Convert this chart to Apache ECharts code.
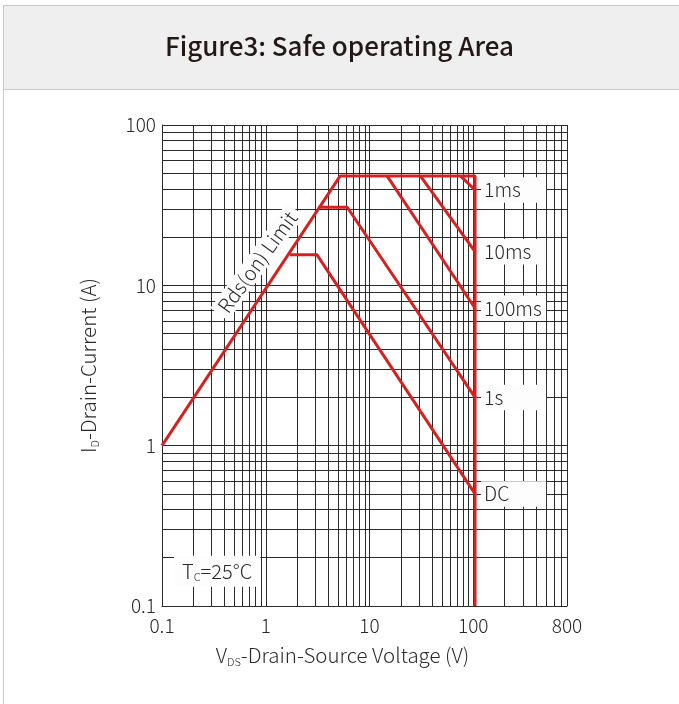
<!DOCTYPE html>
<html>
<head>
<meta charset="utf-8">
<script src="https://cdn.jsdelivr.net/npm/echarts@6/dist/echarts.min.js"></script>
<style>
html,body{margin:0;padding:0;background:#fff;}
#chart{width:679px;height:704px;}
</style>
</head>
<body>
<div id="chart"></div>
<script>
// ---- data (V in volts, I in amps) ----
const xTicks = [0.1, 1, 10, 100, 800];
const yTicks = [0.1, 1, 10, 100];
const gridX = [0.1,0.2,0.3,0.4,0.5,0.6,0.7,0.8,0.9,1,2,3,4,5,6,7,8,9,10,20,30,40,50,60,70,80,90,100,200,300,400,500,600,700,800];
const gridY = [0.1,0.2,0.3,0.4,0.5,0.6,0.7,0.8,0.9,1,2,3,4,5,6,7,8,9,10,20,30,40,50,60,70,80,90,100];
const boundary = [[0.1,1],[5.2,48],[104,48],[104,0.1]];
const curve1ms = [[75.7,48],[104,39.3]];
const curve10ms = [[31,48],[104,16.2]];
const curve100ms = [[14.8,48],[104,7.2]];
const curve1s = [[3.24,30.7],[6.1,30.7],[104,2]];
const curveDC = [[1.7,15.5],[3.12,15.5],[104,0.5]];
const rdsLabelPos = [0.83, 14];
const tcLabelPos = [0.34, 0.165];

const RED = '#d42222';
const GRID = '#2b2b2b';
const TXT = '#2a2a2a';
const FONT = '"Noto Sans CJK SC","Noto Sans",sans-serif';
const LW = 300;

const chart = echarts.init(document.getElementById('chart'), null, {renderer:'canvas'});

function curve(name, data) {
  return {
    name, type:'line', data, symbol:'none', z:5,
    lineStyle:{color:RED, width:3},
    itemStyle:{color:RED},
    animation:false, silent:true,
    endLabel:{
      show:true, formatter:name, color:TXT, fontSize:19.5, fontWeight:LW, fontFamily:FONT,
      backgroundColor:'#fdfdfd', padding:[3,4,3,3], width:58, distance:6
    }
  };
}

const option = {
  animation:false,
  backgroundColor:'#fff',
  title:{
    text:'Figure3: Safe operating Area', left:'center', top:28,
    textStyle:{fontSize:26, fontWeight:500, color:'#231815', fontFamily:FONT}
  },
  graphic:[
    {type:'rect', z:-10, shape:{x:3.5,y:5.5,width:700,height:84}, style:{fill:'#efefef', stroke:'#c9c9c9', lineWidth:1}},
    {type:'line', z:-10, shape:{x1:3.5,y1:5,x2:3.5,y2:704}, style:{stroke:'#c9c9c9', lineWidth:1}}
  ],
  grid:{left:162, top:125, right:112, bottom:98, containLabel:false},
  xAxis:{
    type:'log', logBase:10, min:0.1, max:800,
    name:'{n|V}{s|DS}{n|-Drain-Source Voltage (V)}',
    nameLocation:'middle', nameGap:37,
    nameTextStyle:{padding:[0,44,0,0], rich:{
      n:{fontSize:20.5, fontWeight:LW, color:TXT, fontFamily:FONT},
      s:{fontSize:11, fontWeight:LW, color:TXT, fontFamily:FONT, padding:[13,0,0,0]}
    }},
    axisLine:{show:true, lineStyle:{color:GRID, width:1}},
    axisTick:{show:false},
    splitLine:{show:false},
    axisLabel:{customValues:xTicks, fontSize:19, fontWeight:LW, color:TXT, fontFamily:FONT, margin:10,
      formatter:v=>String(+(+v).toPrecision(3))}
  },
  yAxis:{
    type:'log', logBase:10, min:0.1, max:100,
    name:'{n|I}{s|D}{n|-Drain-Current (A)}',
    nameLocation:'middle', nameGap:62, nameRotate:90,
    nameTextStyle:{rich:{
      n:{fontSize:20.5, fontWeight:LW, color:TXT, fontFamily:FONT},
      s:{fontSize:11, fontWeight:LW, color:TXT, fontFamily:FONT, padding:[13,0,0,0]}
    }},
    axisLine:{show:true, lineStyle:{color:GRID, width:1}},
    axisTick:{show:false},
    splitLine:{show:false},
    axisLabel:{customValues:yTicks, fontSize:19, fontWeight:LW, color:TXT, fontFamily:FONT, margin:6,
      formatter:v=>String(+(+v).toPrecision(3))}
  },
  series:[
    {
      name:'grid', type:'line', data:[], z:1, silent:true, animation:false,
      markLine:{
        silent:true, symbol:['none','none'], animation:false,
        label:{show:false},
        lineStyle:{color:GRID, width:1, type:'solid'},
        emphasis:{disabled:true},
        data:[...gridX.map(v=>({xAxis:v})), ...gridY.map(v=>({yAxis:v}))]
      }
    },
    {
      name:'boundary', type:'line', data:boundary, symbol:'none', z:5, silent:true, animation:false,
      lineStyle:{color:RED, width:3},
      markPoint:{
        silent:true, symbol:'rect', symbolSize:0, animation:false,
        data:[
          {coord:rdsLabelPos, label:{show:true, position:'inside', formatter:'Rds(on) Limit', rotate:54,
            fontSize:20, fontWeight:LW, color:TXT, fontFamily:FONT, backgroundColor:'#fdfdfd', padding:[1,5,1,5]}},
          {coord:tcLabelPos, label:{show:true, position:'inside', formatter:'{n|T}{s|C}{n|=25°C}',
            backgroundColor:'#fdfdfd', padding:[4,8,4,8],
            rich:{n:{fontSize:20, fontWeight:LW, color:TXT, fontFamily:FONT},
                  s:{fontSize:11, fontWeight:LW, color:TXT, fontFamily:FONT, padding:[12,0,0,0]}}}}
        ]
      }
    },
    curve('1ms', curve1ms),
    curve('10ms', curve10ms),
    curve('100ms', curve100ms),
    curve('1s', curve1s),
    curve('DC', curveDC)
  ]
};
chart.setOption(option);
</script>
</body>
</html>
